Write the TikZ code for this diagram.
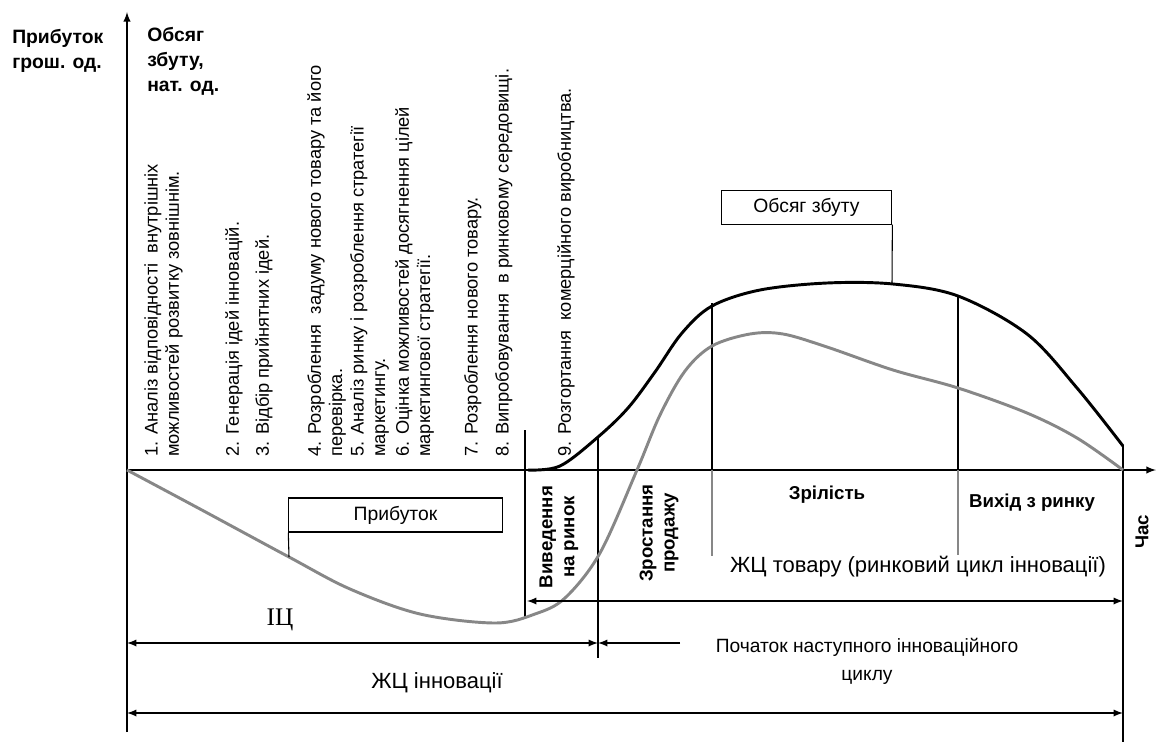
\documentclass[tikz,border=0pt]{standalone}
\usepackage{fontspec}
\setmainfont{Liberation Sans}
\newfontfamily\timesfont{Liberation Serif}
\usetikzlibrary{arrows}
\definecolor{profitgray}{RGB}{135,135,135}

\begin{document}
\begin{tikzpicture}[x=0.75pt,y=-0.75pt,>=latex,
        steptext/.style={rotate=90,anchor=north west,inner sep=0pt,align=left,
            font=\fontsize{13.7}{16}\selectfont},
        stagetext/.style={font=\fontsize{14}{16.5}\selectfont\bfseries,align=center,inner sep=0pt},
        axislabel/.style={font=\fontsize{14.5}{18.75}\selectfont\bfseries,align=left,
            anchor=north west,inner sep=0pt},
        labelbox/.style={draw,line width=0.8pt,inner sep=0pt,font=\fontsize{14.5}{17}\selectfont},
        cycletext/.style={font=\fontsize{16.5}{20}\selectfont,inner sep=0pt,align=center},
        phaseline/.style={line width=0.9pt},
        softline/.style={line width=0.9pt,profitgray},
        cyclearrow/.style={<->,line width=1.4pt}]
        \useasboundingbox (0,0) rectangle (1156,742);

        \coordinate (O) at (127,470);
        \coordinate (ytop) at (127,12);
        \coordinate (ybot) at (127,732);
        \coordinate (xend) at (1156,470);

        \draw[->,line width=1.5pt] (ybot) -- (ytop);
        \draw[->,line width=1.5pt] (O) -- (xend);

        \node[axislabel] (profitaxis) at (12,29) {Прибуток\\грош. од.};
        \node[axislabel] (salesaxis) at (147,27) {Обсяг\\збуту,\\нат. од.};

        \node[steptext] (s1) at (144,457) {1. Аналіз відповідності \ внутрішніх\\можливостей розвитку зовнішнім.};
        \node[steptext] (s2) at (225,457) {2. Генерація ідей інновацій.};
        \node[steptext] (s3) at (255,457) {3. Відбір прийнятних ідей.};
        \node[steptext] (s4) at (307,457) {4. Розроблення \ задуму нового товару та його\\перевірка.};
        \node[steptext] (s5) at (350,457) {5. Аналіз ринку і розроблення стратегії\\маркетингу.};
        \node[steptext] (s6) at (395,457) {6. Оцінка можливостей досягнення цілей\\маркетингової стратегії.};
        \node[steptext] (s7) at (464,457) {7. Розроблення нового товару.};
        \node[steptext] (s8) at (495,457) {8. Випробовування \ в ринковому середовищі.};
        \node[steptext] (s9) at (557,457) {9. Розгортання \ комерційного виробництва.};

        \draw[phaseline] (525,430) -- (525,617);
        \draw[phaseline] (598,437) -- (598,658);
        \draw[phaseline] (712,303) -- (712,470);
        \draw[softline] (712,470) -- (712,556);
        \draw[phaseline] (958,297) -- (958,470);
        \draw[softline] (958,470) -- (958,555);
        \draw[phaseline] (1123,445) -- (1123,742);

        % sales volume
        \draw[line width=2.2pt] plot[smooth,tension=0.55] coordinates {(528,470) (560,466) (598,437) (628,408) (655,372) (682,333) (712,306) (760,290) (827,283) (893,284) (958,296) (1027,334) (1077,388) (1123,446)};
        % profit
        \draw[line width=2.2pt,profitgray] plot[smooth,tension=0.55] coordinates {(127,470) (200,509) (289,557) (350,589) (420,614) (495,623) (535,614) (565,598) (600,553) (637,470) (660,415) (685,371) (712,346) (750,334) (783,334) (827,347) (893,370) (958,388) (1027,413) (1077,438) (1123,470)};

        \node[labelbox,minimum width=128pt,minimum height=25pt] (salesbox) at (806.5,207.5) {Обсяг збуту};
        \coordinate (salespt) at (892,284);
        \draw[line width=0.8pt] (salesbox.south east) -- (salespt);

        \node[labelbox,minimum width=160pt,minimum height=25.5pt] (profitbox) at (395.5,515) {Прибуток};
        \coordinate (profitpt) at (289,557);
        \draw[line width=0.8pt] (profitbox.south west) -- (profitpt);

        \node[stagetext,rotate=90] (intro) at (559,537) {Виведення\\на ринок};
        \node[stagetext,rotate=90] (growth) at (659,533) {Зростання\\продажу};
        \node[stagetext] (maturity) at (827,495) {Зрілість};
        \node[stagetext] (decline) at (1032,503) {Вихід з ринку};
        \node[stagetext,rotate=90] (time) at (1142,532) {Час};

        \coordinate (gt-l) at (527,601);
        \coordinate (gt-r) at (1123,601);
        \draw[cyclearrow] (gt-l) -- (gt-r);
        \node[cycletext] (lcprod) at (918,567) {ЖЦ товару (ринковий цикл інновації)};

        \coordinate (iz-l) at (127,643);
        \coordinate (iz-r) at (598,643);
        \draw[cyclearrow] (iz-l) -- (iz-r);
        \node[font=\timesfont\fontsize{19}{22}\selectfont,inner sep=0pt] (iz) at (280,620) {ІЦ};

        \coordinate (next-start) at (680,643);
        \draw[->,line width=1.4pt] (next-start) -- (iz-r);
        \node[cycletext,font=\fontsize{14.4}{21}\selectfont] (nextcycle) at (867,661) {Початок наступного інноваційного\\циклу};

        \coordinate (gi-l) at (127,713);
        \coordinate (gi-r) at (1123,713);
        \draw[cyclearrow] (gi-l) -- (gi-r);
        \node[cycletext] (lcinno) at (437,683) {ЖЦ інновації};
    \end{tikzpicture}
\end{document}
